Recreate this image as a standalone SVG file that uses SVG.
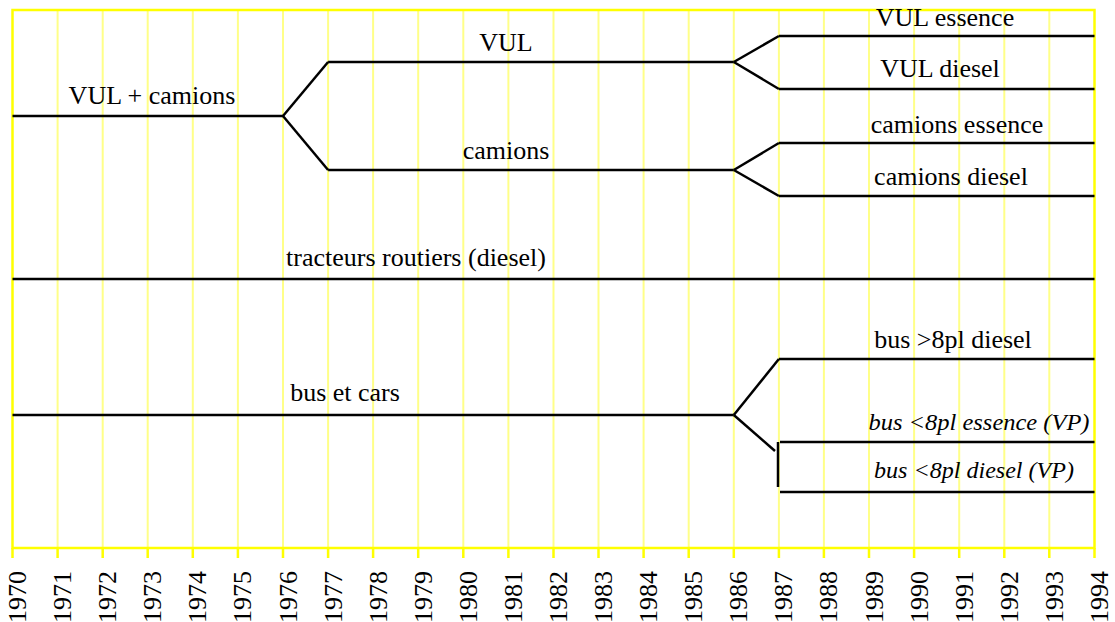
<svg xmlns="http://www.w3.org/2000/svg" width="1115" height="622" viewBox="0 0 1115 622">
<style>
.grid{stroke:#ffff88;stroke-width:2;fill:none}
.frame{stroke:#ffff00;stroke-width:2.5;fill:none}
.tick{stroke:#ffff00;stroke-width:2.5}
.ln{stroke:#000;stroke-width:2.5;fill:none;stroke-linejoin:miter}
text{font-family:'Liberation Serif',Tinos,'DejaVu Serif','Noto Serif',serif;fill:#000}
.lbl{font-size:26px;text-anchor:middle}
.it{font-size:24px;font-style:italic;text-anchor:middle}
.yr{font-size:26px;text-anchor:end}
</style>
<rect width="1115" height="622" fill="#fff"/>
<g id="grid">
<path class="grid" d="M57.6 10V548M102.7 10V548M147.7 10V548M192.8 10V548M237.9 10V548M283 10V548M328.1 10V548M373.1 10V548M418.2 10V548M463.3 10V548M508.4 10V548M553.5 10V548M598.5 10V548M643.6 10V548M688.7 10V548M733.8 10V548M778.9 10V548M823.9 10V548M869 10V548M914.1 10V548M959.2 10V548M1004.3 10V548M1049.3 10V548"/>
<rect class="frame" x="12.5" y="10" width="1082" height="538"/>
<path class="tick" d="M12.5 548V558M57.6 548V558M102.7 548V558M147.7 548V558M192.8 548V558M237.9 548V558M283 548V558M328.1 548V558M373.1 548V558M418.2 548V558M463.3 548V558M508.4 548V558M553.5 548V558M598.5 548V558M643.6 548V558M688.7 548V558M733.8 548V558M778.9 548V558M823.9 548V558M869 548V558M914.1 548V558M959.2 548V558M1004.3 548V558M1049.3 548V558M1094.5 548V558"/>
</g>
<g id="years" font-family="Liberation Serif, serif">
<text class="yr" transform="translate(26,571) rotate(-90)">1970</text>
<text class="yr" transform="translate(71.1,571) rotate(-90)">1971</text>
<text class="yr" transform="translate(116.2,571) rotate(-90)">1972</text>
<text class="yr" transform="translate(161.2,571) rotate(-90)">1973</text>
<text class="yr" transform="translate(206.3,571) rotate(-90)">1974</text>
<text class="yr" transform="translate(251.4,571) rotate(-90)">1975</text>
<text class="yr" transform="translate(296.5,571) rotate(-90)">1976</text>
<text class="yr" transform="translate(341.6,571) rotate(-90)">1977</text>
<text class="yr" transform="translate(386.6,571) rotate(-90)">1978</text>
<text class="yr" transform="translate(431.7,571) rotate(-90)">1979</text>
<text class="yr" transform="translate(476.8,571) rotate(-90)">1980</text>
<text class="yr" transform="translate(521.9,571) rotate(-90)">1981</text>
<text class="yr" transform="translate(567,571) rotate(-90)">1982</text>
<text class="yr" transform="translate(612,571) rotate(-90)">1983</text>
<text class="yr" transform="translate(657.1,571) rotate(-90)">1984</text>
<text class="yr" transform="translate(702.2,571) rotate(-90)">1985</text>
<text class="yr" transform="translate(747.3,571) rotate(-90)">1986</text>
<text class="yr" transform="translate(792.4,571) rotate(-90)">1987</text>
<text class="yr" transform="translate(837.4,571) rotate(-90)">1988</text>
<text class="yr" transform="translate(882.5,571) rotate(-90)">1989</text>
<text class="yr" transform="translate(927.6,571) rotate(-90)">1990</text>
<text class="yr" transform="translate(972.7,571) rotate(-90)">1991</text>
<text class="yr" transform="translate(1017.8,571) rotate(-90)">1992</text>
<text class="yr" transform="translate(1062.8,571) rotate(-90)">1993</text>
<text class="yr" transform="translate(1108,571) rotate(-90)">1994</text>
</g>
<g id="vul-camions"><path class="ln" d="M12.5 116H283"/><text class="lbl" x="152" y="104">VUL + camions</text></g>
<g id="vul"><path class="ln" d="M328.1 62H733.8"/><text class="lbl" x="506" y="51">VUL</text></g>
<g id="camions"><path class="ln" d="M328.1 170H733.8"/><text class="lbl" x="506" y="159">camions</text></g>
<g id="vul-essence"><path class="ln" d="M778.9 36H1094.5"/><text class="lbl" x="945" y="26">VUL essence</text></g>
<g id="vul-diesel"><path class="ln" d="M778.9 89H1094.5"/><text class="lbl" x="940" y="77">VUL diesel</text></g>
<g id="camions-essence"><path class="ln" d="M778.9 143H1094.5"/><text class="lbl" x="957" y="133">camions essence</text></g>
<g id="camions-diesel"><path class="ln" d="M778.9 196H1094.5"/><text class="lbl" x="951" y="185">camions diesel</text></g>
<g id="tracteurs"><path class="ln" d="M12.5 279H1094.5"/><text class="lbl" x="416" y="266">tracteurs routiers (diesel)</text></g>
<g id="bus-cars"><path class="ln" d="M12.5 415H733.8"/><text class="lbl" x="345" y="401">bus et cars</text></g>
<g id="bus-gt8-diesel"><path class="ln" d="M778.9 359H1094.5"/><text class="lbl" x="953" y="348">bus &gt;8pl diesel</text></g>
<g id="bus-lt8-essence"><path class="ln" d="M780 442H1094.5"/><text class="it" x="979" y="430" textLength="221" lengthAdjust="spacingAndGlyphs">bus &lt;8pl essence (VP)</text></g>
<g id="bus-lt8-diesel"><path class="ln" d="M780 492H1094.5"/><text class="it" x="974" y="478" textLength="200" lengthAdjust="spacingAndGlyphs">bus &lt;8pl diesel (VP)</text></g>
<g id="connectors">
<path class="ln" d="M283 116L328.1 62"/>
<path class="ln" d="M283 116L328.1 170"/>
<path class="ln" d="M733.8 62L778.9 36"/>
<path class="ln" d="M733.8 62L778.9 89"/>
<path class="ln" d="M733.8 170L778.9 143"/>
<path class="ln" d="M733.8 170L778.9 196"/>
<path class="ln" d="M733.8 415L778.9 359"/>
<path class="ln" d="M733.8 415L775 451"/>
<path class="ln" d="M778 442V487"/>
</g>
</svg>
